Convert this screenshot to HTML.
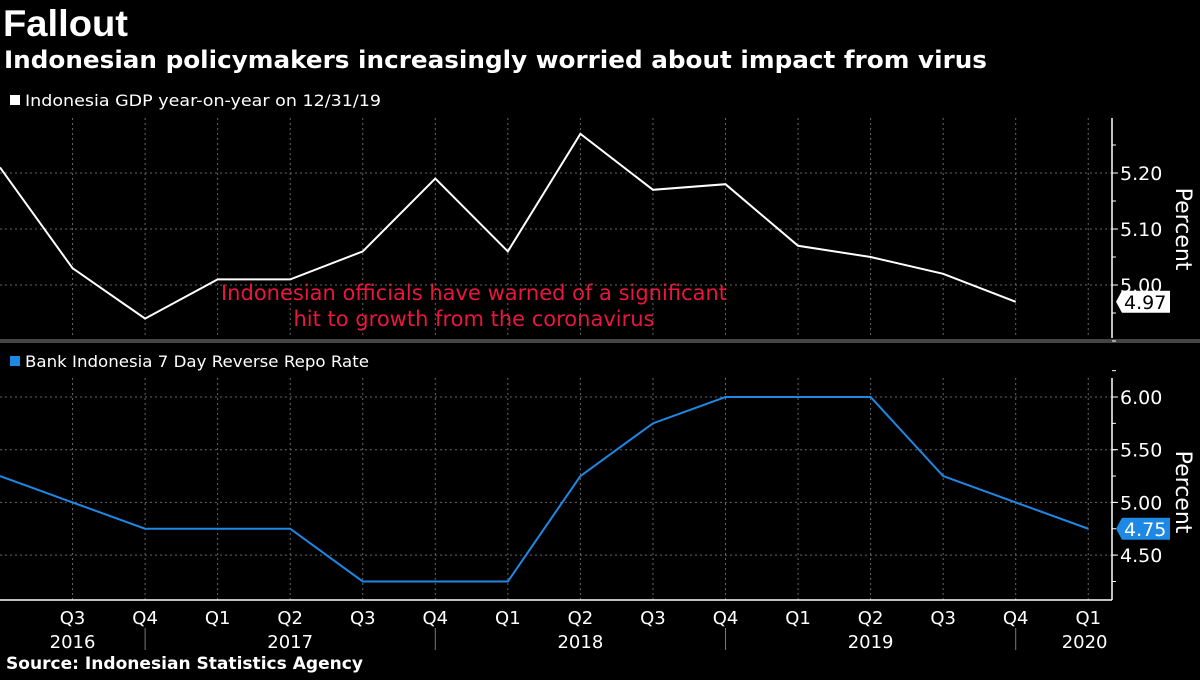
<!DOCTYPE html>
<html><head><meta charset="utf-8"><style>
body{margin:0;background:#000;width:1200px;height:675px;overflow:hidden;font-family:"Liberation Sans","DejaVu Sans",sans-serif;}
svg text{font-family:"DejaVu Sans","Liberation Sans",sans-serif;}
</style></head><body>
<svg id="c" width="1200" height="675">
<text x="3" y="36" fill="#fff" font-size="37" font-weight="bold" textLength="125" lengthAdjust="spacingAndGlyphs" style="font-family:'Liberation Sans',sans-serif">Fallout</text>
<text x="4" y="68" fill="#fff" font-size="24" font-weight="bold" textLength="983" lengthAdjust="spacingAndGlyphs" style="font-family:'DejaVu Sans',sans-serif">Indonesian policymakers increasingly worried about impact from virus</text>
<rect x="10" y="95" width="10" height="10" fill="#fff"/>
<text x="25" y="106" fill="#fff" font-size="16" textLength="356" lengthAdjust="spacingAndGlyphs">Indonesia GDP year-on-year  on 12/31/19</text>
<rect x="10" y="356" width="10" height="10" fill="#1e88e5"/>
<text x="25" y="367" fill="#fff" font-size="16" textLength="344" lengthAdjust="spacingAndGlyphs">Bank Indonesia 7 Day Reverse Repo Rate</text>
<rect x="0" y="339" width="1200" height="4" fill="#444"/>
<g id="g"></g>
<text x="474" y="300" fill="#e8173c" font-size="21" text-anchor="middle"><tspan x="474">Indonesian officials have warned of a significant</tspan><tspan x="474" dy="26">hit to growth from the coronavirus</tspan></text>
<text transform="translate(1176,229) rotate(90)" fill="#fff" font-size="22" text-anchor="middle">Percent</text>
<text transform="translate(1176,492) rotate(90)" fill="#fff" font-size="22" text-anchor="middle">Percent</text>
<text x="6" y="669" fill="#fff" font-size="17" font-weight="bold" textLength="357" lengthAdjust="spacingAndGlyphs" style="font-family:'DejaVu Sans',sans-serif">Source: Indonesian Statistics Agency</text>
</svg>
<script>
const quarterLabels=["Q3","Q4","Q1","Q2","Q3","Q4","Q1","Q2","Q3","Q4","Q1","Q2","Q3","Q4","Q1"];
const yearLabels=["2016","2017","2018","2019","2020"];
const gdpValues=[5.21,5.03,4.94,5.01,5.01,5.06,5.19,5.06,5.27,5.17,5.18,5.07,5.05,5.02,4.97];
const rateValues=[5.25,5.00,4.75,4.75,4.75,4.25,4.25,4.25,5.25,5.75,6.00,6.00,6.00,5.25,5.00,4.75];
const gdpTicks=[5.20,5.10,5.00];
const rateTicks=[6.00,5.50,5.00,4.50];
const NS="http://www.w3.org/2000/svg",g=document.getElementById('g');
function el(t,a){const e=document.createElementNS(NS,t);for(const k in a)e.setAttribute(k,a[k]);g.appendChild(e);return e;}
const X=i=>i*72.55;
const yT=v=>173-(v-5.2)*560;
const yB=v=>397+(6-v)*105.4;
const AX=1112;
for(let i=1;i<=15;i++){
 const a=el('line',{x1:X(i),x2:X(i),y1:118,y2:338,stroke:'#666','stroke-dasharray':'2,3'});
 
 const b=el('line',{x1:X(i),x2:X(i),y1:378,y2:600,stroke:'#666','stroke-dasharray':'2,3'});
 
}
gdpTicks.forEach(v=>{
 const l=el('line',{x1:0,x2:AX,y1:yT(v),y2:yT(v),stroke:'#666','stroke-dasharray':'2,3'});
 
 const t=el('text',{x:AX+8,y:yT(v)+7,fill:'#fff','font-size':19});t.textContent=v.toFixed(2);
 
 el('line',{x1:AX,x2:AX+6,y1:yT(v),y2:yT(v),stroke:'#fff'});
});
for(let v=5.25;v>4.9;v-=0.05){el('line',{x1:AX,x2:AX+4,y1:yT(v),y2:yT(v),stroke:'#fff'});}
rateTicks.forEach(v=>{
 const l=el('line',{x1:0,x2:AX,y1:yB(v),y2:yB(v),stroke:'#666','stroke-dasharray':'2,3'});
 
 const t=el('text',{x:AX+8,y:yB(v)+7,fill:'#fff','font-size':19});t.textContent=v.toFixed(2);
 
 el('line',{x1:AX,x2:AX+6,y1:yB(v),y2:yB(v),stroke:'#fff'});
});
for(let v=6.25;v>4.1;v-=0.25){el('line',{x1:AX,x2:AX+4,y1:yB(v),y2:yB(v),stroke:'#fff'});}
const a1=el('line',{x1:AX,x2:AX,y1:118,y2:338,stroke:'#fff','stroke-width':1.5});
const a2=el('line',{x1:AX,x2:AX,y1:378,y2:600,stroke:'#fff','stroke-width':1.5});
const xa=el('line',{x1:0,x2:AX,y1:600,y2:600,stroke:'#fff','stroke-width':1.5});
quarterLabels.forEach((q,i)=>{const t=el('text',{x:X(i+1),y:624,fill:'#fff','font-size':18,'text-anchor':'middle'});t.textContent=q;
 });
const yearX=[X(1),X(4),X(8),X(12),X(14.95)];
yearLabels.forEach((y,i)=>{const t=el('text',{x:yearX[i],y:648,fill:'#fff','font-size':18,'text-anchor':'middle'});t.textContent=y;
 });
[2,6,10,14].forEach(i=>{el('line',{x1:X(i),x2:X(i),y1:628,y2:650,stroke:'#777'});});
const p1=el('polyline',{points:gdpValues.map((v,i)=>X(i)+','+yT(v)).join(' '),fill:'none',stroke:'#fff','stroke-width':2});

const p2=el('polyline',{points:rateValues.map((v,i)=>X(i)+','+yB(v)).join(' '),fill:'none',stroke:'#1e88e5','stroke-width':2});

function tag(v,y,bg,fg,name){
 const s=el('polygon',{points:`${AX+4},${y} ${AX+10},${y-11} ${AX+58},${y-11} ${AX+58},${y+11} ${AX+10},${y+11}`,fill:bg});
 
 const t=el('text',{x:AX+12,y:y+7,fill:fg,'font-size':19});t.textContent=v.toFixed(2);
 
}
tag(gdpValues[gdpValues.length-1],yT(gdpValues[gdpValues.length-1]),'#fff','#000','gdp-last-value');
tag(rateValues[rateValues.length-1],yB(rateValues[rateValues.length-1]),'#1e88e5','#fff','rate-last-value');
</script>
</body></html>
